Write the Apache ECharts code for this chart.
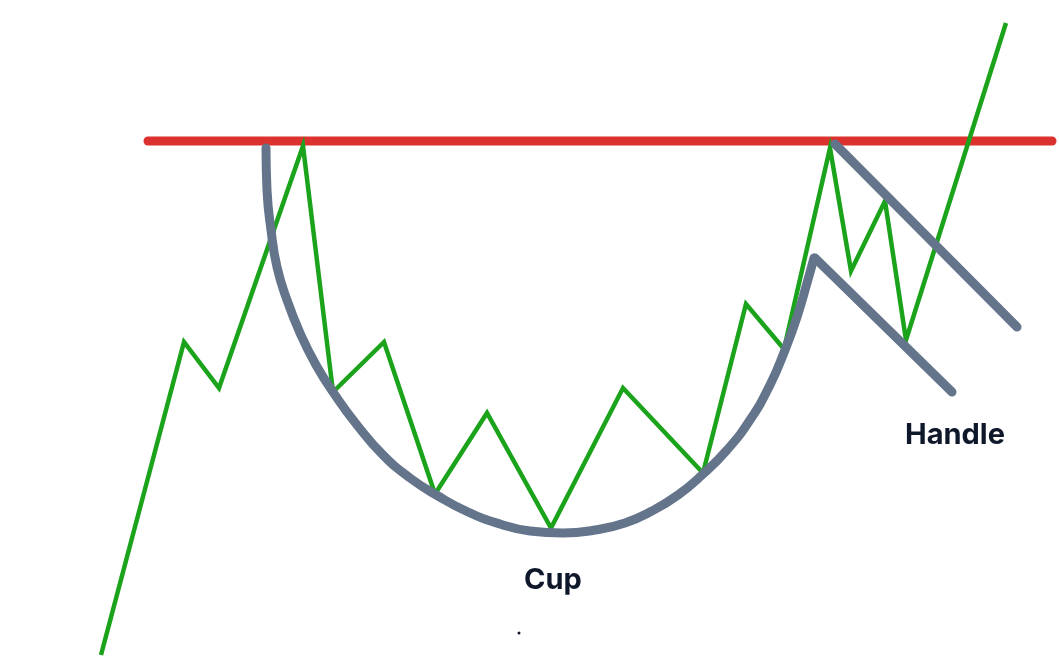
<!DOCTYPE html>
<html>
<head>
<meta charset="utf-8">
<script src="https://cdn.jsdelivr.net/npm/echarts@6/dist/echarts.min.js"></script>
<style>html,body{margin:0;padding:0;background:#fff}#c{width:1059px;height:659px}</style>
</head>
<body>
<div id="c"></div>
<script>
// Coordinates in chart units (x: time, y: price level drawn with inverted axis)
var priceX = [101, 184, 219, 303, 333, 384, 435, 487, 551, 623, 703, 746, 784, 830, 851, 885, 906, 1006];
var priceY = [655, 342, 388, 146, 392, 342, 494, 413, 528, 388, 473, 304, 349, 148, 271, 201, 340, 23];

var resistanceX = [148, 1052];
var resistanceY = [141, 141];

var cupX = [266, 267, 271, 277, 287, 300, 316, 335, 357, 383, 410, 438, 468, 500, 530, 563, 595, 625, 652, 678, 702, 727, 750, 770, 785, 797, 807, 814];
var cupY = [148, 190, 230, 267, 300, 333, 365, 395, 425, 455, 478, 496, 512, 524, 531, 533, 530, 523, 511, 495, 475, 450, 420, 385, 350, 317, 283, 258];

var handleUpperX = [835, 1017];
var handleUpperY = [144, 327];
var handleLowerX = [815, 952];
var handleLowerY = [258, 392];

var labels = [
  {name: 'Cup', x: 553, y: 580},
  {name: 'Handle', x: 955, y: 435}
];
var dot = [519, 633];

function zip(xs, ys){ return xs.map(function(x,i){ return [x, ys[i]]; }); }

var chart = echarts.init(document.getElementById('c'));
var gray = '#64748b';
chart.setOption({
  animation: false,
  grid: {left: 0, right: 0, top: 0, bottom: 0},
  xAxis: {type: 'value', min: 0, max: 1059, show: false},
  yAxis: {type: 'value', min: 0, max: 659, inverse: true, show: false},
  series: [
    {type: 'line', data: zip(resistanceX, resistanceY), symbol: 'none', z: 1,
     lineStyle: {color: '#dc322f', width: 9, cap: 'round'}},
    {type: 'line', data: zip(priceX, priceY), symbol: 'none', z: 2,
     lineStyle: {color: '#1ba31b', width: 4.5, join: 'miter'}},
    {type: 'line', data: zip(cupX, cupY), symbol: 'none', smooth: 0.5, z: 3,
     lineStyle: {color: gray, width: 9, cap: 'round'}},
    {type: 'line', data: zip(handleUpperX, handleUpperY), symbol: 'none', z: 3,
     lineStyle: {color: gray, width: 9, cap: 'round'}},
    {type: 'line', data: zip(handleLowerX, handleLowerY), symbol: 'none', z: 3,
     lineStyle: {color: gray, width: 9, cap: 'round'}},
    {type: 'scatter', symbolSize: 0, z: 4, itemStyle: {opacity: 1},
     data: labels.map(function(l){ return {name: l.name, value: [l.x, l.y]}; }),
     label: {show: true, position: 'inside', formatter: '{b}', color: '#0f172a', opacity: 1,
             fontFamily: 'Inter', fontWeight: 'bold', fontSize: 29}},
    {type: 'scatter', symbol: 'circle', symbolSize: 3, z: 4, data: [dot],
     itemStyle: {color: '#0f172a', opacity: 1}}
  ]
});
</script>
</body>
</html>
